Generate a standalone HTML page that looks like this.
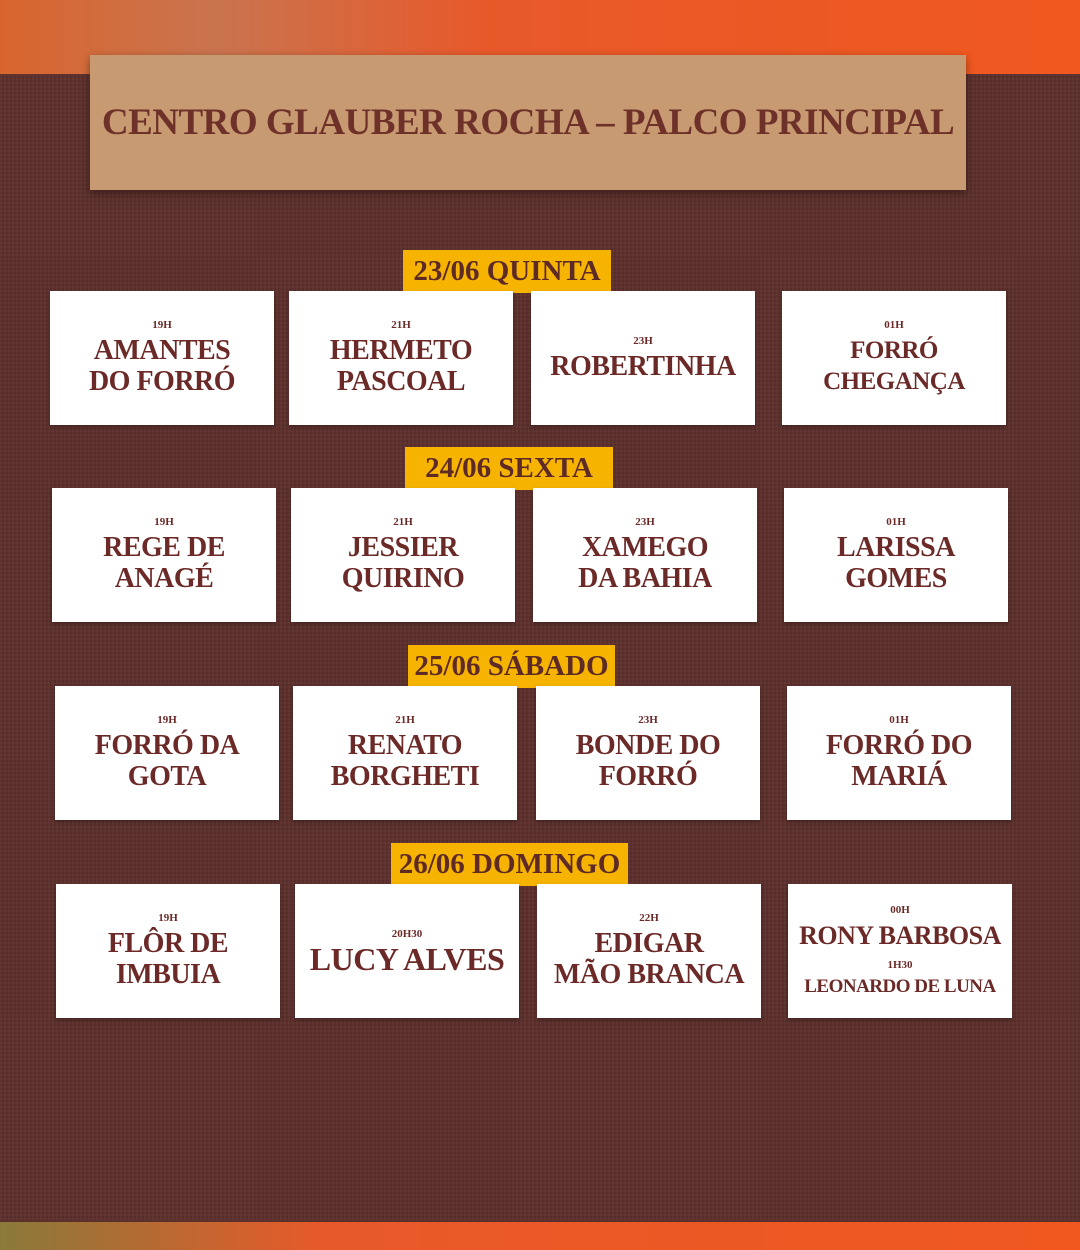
<!DOCTYPE html>
<html><head><meta charset="utf-8"><style>
*{margin:0;padding:0;box-sizing:border-box}
body{width:1080px;height:1250px;position:relative;overflow:hidden;background:#5b2f2b;font-family:"Liberation Serif",serif;}
.bg{position:absolute;left:0;top:0;width:1080px;height:1250px;background:repeating-linear-gradient(0deg,rgba(0,0,0,.06) 0 2px,transparent 2px 4px),repeating-linear-gradient(90deg,rgba(255,255,255,.03) 0 2px,transparent 2px 4px),#5d302c}
.top{position:absolute;left:0;top:0;width:1080px;height:74px;background:linear-gradient(90deg,#d9652e 0,#c9744f 20%,#e8592a 45%,#f0581f 100%)}
.bot{position:absolute;left:0;top:1222px;width:1080px;height:28px;background:linear-gradient(90deg,#8a7a3a 0,#e8592a 30%,#f0581f 100%)}
.title{position:absolute;left:90px;top:55px;width:876px;height:135px;background:#c89a72;box-shadow:0 3px 8px rgba(0,0,0,.4);display:flex;align-items:center;justify-content:center;color:#6e3129;font-weight:bold;font-size:37px;white-space:nowrap;letter-spacing:-0.5px}
.lab{position:absolute;height:43px;background:#f6b400;color:#5e2a25;font-weight:bold;font-size:29px;display:flex;align-items:center;justify-content:center;white-space:nowrap}
.card{position:absolute;width:224px;height:134px;background:#fff;color:#6b2a27;text-align:center;display:flex;flex-direction:column;align-items:center;justify-content:center;font-weight:bold;box-shadow:0 2px 4px rgba(0,0,0,.3);white-space:nowrap}
.card small{font-size:11px;margin-bottom:4px}
.card b{font-size:28px;line-height:31px;letter-spacing:-0.5px}
</style></head><body>
<div class="bg"></div><div class="top"></div><div class="bot"></div>
<div class="title">CENTRO GLAUBER ROCHA – PALCO PRINCIPAL</div>

<div class="lab" style="left:403px;top:250px;width:208px">23/06 QUINTA</div>
<div class="card" style="left:50px;top:291px"><small>19H</small><b>AMANTES<br>DO FORRÓ</b></div>
<div class="card" style="left:289px;top:291px"><small>21H</small><b>HERMETO<br>PASCOAL</b></div>
<div class="card" style="left:531px;top:291px"><small>23H</small><b>ROBERTINHA</b></div>
<div class="card" style="left:782px;top:291px"><small>01H</small><b style="font-size:25px">FORRÓ<br>CHEGANÇA</b></div>

<div class="lab" style="left:405px;top:447px;width:208px">24/06 SEXTA</div>
<div class="card" style="left:52px;top:488px"><small>19H</small><b>REGE DE<br>ANAGÉ</b></div>
<div class="card" style="left:291px;top:488px"><small>21H</small><b>JESSIER<br>QUIRINO</b></div>
<div class="card" style="left:533px;top:488px"><small>23H</small><b>XAMEGO<br>DA BAHIA</b></div>
<div class="card" style="left:784px;top:488px"><small>01H</small><b>LARISSA<br>GOMES</b></div>

<div class="lab" style="left:408px;top:645px;width:207px">25/06 SÁBADO</div>
<div class="card" style="left:55px;top:686px"><small>19H</small><b>FORRÓ DA<br>GOTA</b></div>
<div class="card" style="left:293px;top:686px"><small>21H</small><b>RENATO<br>BORGHETI</b></div>
<div class="card" style="left:536px;top:686px"><small>23H</small><b>BONDE DO<br>FORRÓ</b></div>
<div class="card" style="left:787px;top:686px"><small>01H</small><b>FORRÓ DO<br>MARIÁ</b></div>

<div class="lab" style="left:391px;top:843px;width:237px">26/06 DOMINGO</div>
<div class="card" style="left:56px;top:884px"><small>19H</small><b>FLÔR DE<br>IMBUIA</b></div>
<div class="card" style="left:295px;top:884px"><small>20H30</small><b style="font-size:32px">LUCY ALVES</b></div>
<div class="card" style="left:537px;top:884px"><small>22H</small><b>EDIGAR<br>MÃO BRANCA</b></div>
<div class="card" style="left:788px;top:884px"><small>00H</small><b style="font-size:26px">RONY BARBOSA</b><small style="margin-top:8px">1H30</small><b style="font-size:19px;line-height:24px">LEONARDO DE LUNA</b></div>
</body></html>
